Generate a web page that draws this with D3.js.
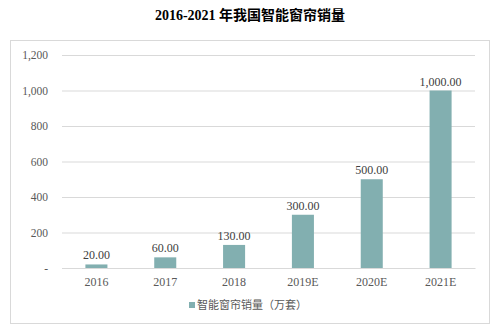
<!DOCTYPE html>
<html><head><meta charset="utf-8">
<script src="https://cdn.jsdelivr.net/npm/d3@7"></script>
<style>body{margin:0;background:#fff;}</style>
</head><body>
<svg id="c" width="496" height="328"></svg>
<script>
const categories = ["2016","2017","2018","2019E","2020E","2021E"];
const values = [20,60,130,300,500,1000];
const yTicks = [0,200,400,600,800,1000,1200];
const yTickLabels = ["-","200","400","600","800","1,000","1,200"];
const seriesName = "智能窗帘销量（万套）";
const title = "2016-2021 年我国智能窗帘销量";

(function(){
const svg = d3.select("#c");
const serif = "'Liberation Serif','Times New Roman',serif";
const cjk = "'Noto Sans CJK SC',sans-serif";
const mLeft = 62, mRight = 475, mTop = 55, mBottom = 268;

svg.append("rect").attr("x",10.5).attr("y",40.5).attr("width",479).attr("height",283)
  .attr("fill","#fff").attr("stroke","#d9d9d9");

svg.append("text").attr("x",250).attr("y",20).attr("text-anchor","middle")
  .attr("font-family",serif+","+cjk).attr("font-weight","bold").attr("font-size",14).attr("fill","#000")
  .text(title);

const x = d3.scaleBand().domain(categories).range([mLeft,mRight]).paddingInner(0.68).paddingOuter(0.34);
const y = d3.scaleLinear().domain([0,1200]).range([mBottom,mTop]);

const yAxis = d3.axisLeft(y).tickValues(yTicks).tickSize(-(mRight-mLeft)).tickPadding(14)
  .tickFormat((d,i)=>yTickLabels[i]);
const gy = svg.append("g").attr("transform",`translate(${mLeft},0)`).call(yAxis);
gy.select(".domain").remove();
gy.selectAll("line").attr("stroke","#d9d9d9");
gy.selectAll("text").attr("font-family",serif).attr("font-size",11.5).attr("fill","#595959");

svg.selectAll("rect.bar").data(values).enter().append("rect").attr("class","bar")
  .attr("x",(d,i)=>x(categories[i])).attr("width",x.bandwidth())
  .attr("y",d=>y(d)).attr("height",d=>mBottom-y(d)).attr("fill","#82afb0");

svg.selectAll("text.val").data(values).enter().append("text").attr("class","val")
  .attr("x",(d,i)=>x(categories[i])+x.bandwidth()/2).attr("y",d=>y(d)-5)
  .attr("text-anchor","middle").attr("font-family",serif).attr("font-size",12).attr("fill","#404040")
  .text(d=>d3.format(",.2f")(d));

const xAxis = d3.axisBottom(x).tickSize(0).tickPadding(9);
const gx = svg.append("g").attr("transform",`translate(0,${mBottom})`).call(xAxis);
gx.select(".domain").attr("stroke","#d9d9d9");
gx.selectAll("text").attr("font-family",serif).attr("font-size",12).attr("fill","#595959");

const lg = svg.append("g").attr("transform","translate(189,302)");
lg.append("rect").attr("width",6).attr("height",6).attr("y",0).attr("fill","#82afb0");
lg.append("text").attr("x",8).attr("y",7).attr("font-family",cjk).attr("font-size",11).attr("fill","#595959").text(seriesName);
})();
</script>
</body></html>
